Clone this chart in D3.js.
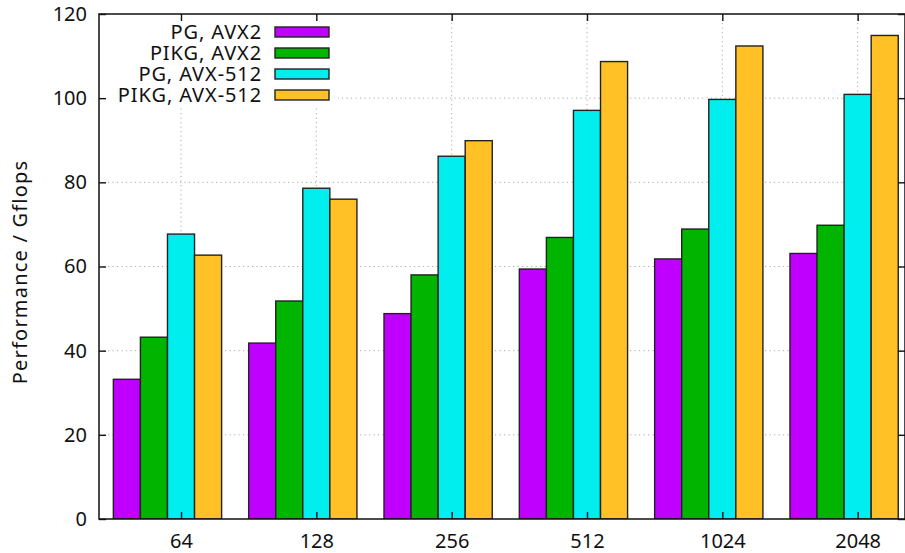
<!DOCTYPE html>
<html>
<head>
<meta charset="utf-8">
<script src="https://cdn.jsdelivr.net/npm/d3@7/dist/d3.min.js"></script>
<style>
  html, body { margin: 0; padding: 0; background: #fff; }
  svg { display: block; font-family: "Noto Sans", "Open Sans", sans-serif; }
</style>
</head>
<body>
<svg id="chart" width="905" height="553"></svg>
<script>
// Problem sizes (x categories)
const categories = ["64", "128", "256", "512", "1024", "2048"];

// Series names, in legend order
const seriesNames = ["PG, AVX2", "PIKG, AVX2", "PG, AVX-512", "PIKG, AVX-512"];
const seriesColors = ["#c000ff", "#00b400", "#00eeee", "#ffc125"];

// Performance (Gflops) per series, one value per category
const pgAvx2     = [33.2, 41.8, 48.8, 59.4, 61.8, 63.1];
const pikgAvx2   = [43.2, 51.8, 58.0, 66.9, 68.9, 69.8];
const pgAvx512   = [67.7, 78.6, 86.2, 97.1, 99.7, 100.9];
const pikgAvx512 = [62.7, 76.0, 89.9, 108.7, 112.4, 114.9];

// Y axis ticks
const yTicks = [0, 20, 40, 60, 80, 100, 120];

const seriesValues = [pgAvx2, pikgAvx2, pgAvx512, pikgAvx512];

const svg = d3.select("#chart");
const plotLeft = 99, plotRight = 905, plotTop = 14, plotBottom = 519;

// Index position scale: tick i sits at position i, range padded like gnuplot
const pos = d3.scaleLinear().domain([-0.606, 5.35]).range([plotLeft, plotRight]);

// One band per category, subdivided into 4 bars plus one bar-wide gap
const x0 = d3.scaleBand().domain(categories).range([pos(-0.5), pos(5.5)]).padding(0);
const x1 = d3.scaleBand().domain([...seriesNames, "gap"]).range([0, x0.bandwidth()]).padding(0);

const y = d3.scaleLinear().domain([0, 120]).range([plotBottom, plotTop]);

const gridColor = "#aaaaaa";

// Horizontal grid lines
svg.append("g")
  .selectAll("line")
  .data(yTicks.filter(v => v > 0 && v < 120))
  .join("line")
  .attr("x1", plotLeft).attr("x2", plotRight)
  .attr("y1", d => y(d)).attr("y2", d => y(d))
  .attr("stroke", gridColor).attr("stroke-width", 1)
  .attr("stroke-dasharray", "1.2,3.3");

// Vertical grid lines at category ticks
svg.append("g")
  .selectAll("line")
  .data(categories)
  .join("line")
  .attr("x1", d => x0(d) + x0.bandwidth() / 2)
  .attr("x2", d => x0(d) + x0.bandwidth() / 2)
  .attr("y1", plotTop).attr("y2", plotBottom)
  .attr("stroke", gridColor).attr("stroke-width", 1)
  .attr("stroke-dasharray", "1.2,3.3");

// Bars, clipped to the plot area
svg.append("clipPath").attr("id", "plotclip")
  .append("rect").attr("x", plotLeft).attr("y", plotTop - 2)
  .attr("width", plotRight - plotLeft).attr("height", plotBottom - plotTop + 2);

const barG = svg.append("g").attr("clip-path", "url(#plotclip)");
seriesNames.forEach((name, k) => {
  barG.append("g")
    .selectAll("rect")
    .data(categories.map((c, i) => ({ c, v: seriesValues[k][i] })))
    .join("rect")
    .attr("x", d => x0(d.c) + x1(name))
    .attr("width", x1.bandwidth())
    .attr("y", d => y(d.v))
    .attr("height", d => y(0) - y(d.v))
    .attr("fill", seriesColors[k])
    .attr("stroke", "#222")
    .attr("stroke-width", 1.4);
});

// Legend (opaque box, top-left)
const legend = svg.append("g");
legend.append("rect")
  .attr("x", 104).attr("y", 20).attr("width", 234).attr("height", 86)
  .attr("fill", "#fff");
seriesNames.forEach((name, k) => {
  const cy = 32 + k * 21;
  legend.append("text")
    .attr("x", 262).attr("y", cy)
    .attr("dy", "0.35em")
    .attr("text-anchor", "end")
    .attr("font-size", 20)
    .attr("letter-spacing", 0.9)
    .attr("fill", "#111")
    .text(name);
  legend.append("rect")
    .attr("x", 275).attr("y", cy - 5)
    .attr("width", 54).attr("height", 10)
    .attr("fill", seriesColors[k])
    .attr("stroke", "#222").attr("stroke-width", 1.4);
});

// Y axis with inward ticks
const yAxis = svg.append("g")
  .attr("transform", `translate(${plotLeft},0)`)
  .call(d3.axisLeft(y).tickValues(yTicks).tickSize(-7).tickPadding(12));
yAxis.select(".domain").remove();
yAxis.selectAll(".tick line").attr("stroke", "#111").attr("stroke-width", 1.4);
yAxis.selectAll(".tick text").attr("font-size", 20).attr("fill", "#111")
  .attr("font-family", "'Noto Sans', sans-serif");

// Mirrored ticks on the right border
const yAxisR = svg.append("g")
  .attr("transform", `translate(${plotRight},0)`)
  .call(d3.axisRight(y).tickValues(yTicks).tickSize(-7).tickFormat(""));
yAxisR.select(".domain").remove();
yAxisR.selectAll(".tick line").attr("stroke", "#111").attr("stroke-width", 1.4);

// X axis labels at category centres
const xTickScale = d3.scalePoint().domain(categories)
  .range([x0(categories[0]) + x0.bandwidth() / 2,
          x0(categories[categories.length - 1]) + x0.bandwidth() / 2]);
const xAxis = svg.append("g")
  .attr("transform", `translate(0,${plotBottom})`)
  .call(d3.axisBottom(xTickScale).tickSize(-7).tickPadding(15));
xAxis.select(".domain").remove();
xAxis.selectAll(".tick line").attr("stroke", "#111").attr("stroke-width", 1.4);
xAxis.selectAll(".tick text").attr("font-size", 20).attr("fill", "#111")
  .attr("font-family", "'Noto Sans', sans-serif");

// Mirrored ticks on the top border
const xAxisT = svg.append("g")
  .attr("transform", `translate(0,${plotTop})`)
  .call(d3.axisTop(xTickScale).tickSize(-7).tickFormat(""));
xAxisT.select(".domain").remove();
xAxisT.selectAll(".tick line").attr("stroke", "#111").attr("stroke-width", 1.4);

// Plot frame
svg.append("rect")
  .attr("x", plotLeft).attr("y", plotTop)
  .attr("width", plotRight - plotLeft).attr("height", plotBottom - plotTop)
  .attr("fill", "none").attr("stroke", "#111").attr("stroke-width", 1.5);

// Y axis title
svg.append("text")
  .attr("transform", "translate(20,272) rotate(-90)")
  .attr("text-anchor", "middle")
  .attr("dy", "0.35em")
  .attr("font-size", 20)
  .attr("letter-spacing", 1.2)
  .attr("fill", "#111")
  .text("Performance / Gflops");
</script>
</body>
</html>
